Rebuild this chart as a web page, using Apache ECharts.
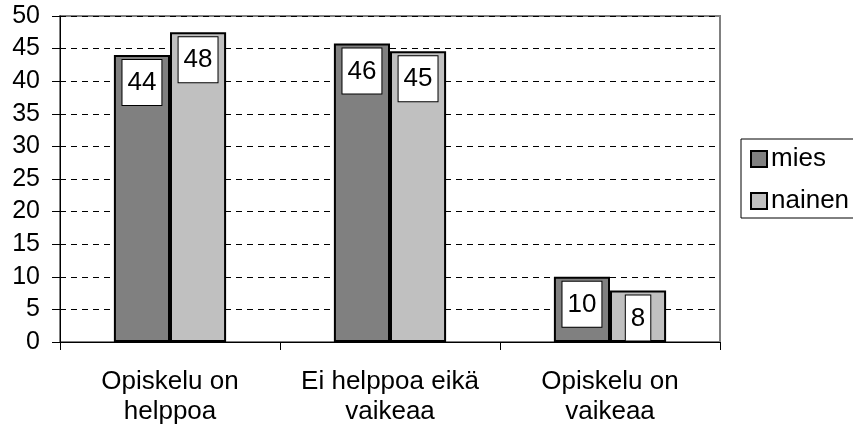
<!DOCTYPE html>
<html>
<head>
<meta charset="utf-8">
<script src="https://cdn.jsdelivr.net/npm/echarts@6/dist/echarts.min.js"></script>
<style>
  html, body { margin: 0; padding: 0; background: #fff; }
  #chart { width: 853px; height: 430px; }
</style>
</head>
<body>
<div id="chart"></div>
<script>
var categories = ['Opiskelu on\nhelppoa', 'Ei helppoa eikä\nvaikeaa', 'Opiskelu on\nvaikeaa'];
var seriesNames = ['mies', 'nainen'];
var miesValues = [44.0, 45.8, 10.0];
var nainenValues = [47.5, 44.6, 7.9];
var barColors = ['#808080', '#c0c0c0'];

var chart = echarts.init(document.getElementById('chart'), null, { renderer: 'canvas' });

var labelStyle = {
  show: true,
  position: 'insideTop',
  distance: 5,
  color: '#000',
  fontSize: 26,
  lineHeight: 26,
  backgroundColor: '#fff',
  borderColor: '#000',
  borderWidth: 1,
  padding: [10, 5, 9, 5],
  formatter: function (p) {
    return Math.round(p.value);
  }
};

function makeSeries(name, values, color) {
  return {
    name: name,
    type: 'bar',
    data: values,
    barGap: '0%',
    barCategoryGap: '49%',
    itemStyle: { color: color, borderColor: '#000', borderWidth: 2 },
    label: labelStyle,
    emphasis: { disabled: true }
  };
}

var option = {
  animation: false,
  textStyle: { fontFamily: 'Liberation Sans, Arial, sans-serif' },
  grid: {
    left: 60,
    right: 133,
    top: 16,
    bottom: 88,
    show: true,
    borderColor: '#808080',
    borderWidth: 2
  },
  legend: {
    orient: 'vertical',
    left: 741,
    top: 139,
    padding: [7, 16, 4, 9],
    itemGap: 16,
    itemWidth: 16,
    itemHeight: 16,
    borderColor: '#000',
    borderWidth: 1,
    icon: 'rect',
    textStyle: { fontSize: 26, lineHeight: 26, color: '#000', padding: [0, 0, 0, -1] },
    data: [
      { name: 'mies', itemStyle: { color: barColors[0], borderColor: '#000', borderWidth: 2 } },
      { name: 'nainen', itemStyle: { color: barColors[1], borderColor: '#000', borderWidth: 2 } }
    ]
  },
  xAxis: {
    type: 'category',
    data: categories,
    axisLine: { lineStyle: { color: '#000', width: 1 } },
    axisTick: { show: true, length: 8, lineStyle: { color: '#000' } },
    axisLabel: {
      color: '#000',
      fontSize: 26,
      lineHeight: 30,
      margin: 25,
      interval: 0
    },
    splitLine: { show: false }
  },
  yAxis: {
    type: 'value',
    min: 0,
    max: 50,
    interval: 5,
    axisLine: { show: true, lineStyle: { color: '#000', width: 1 } },
    axisTick: { show: true, length: 8, lineStyle: { color: '#000' } },
    axisLabel: { color: '#000', fontSize: 25, margin: 20 },
    splitLine: { show: true, lineStyle: { color: '#000', type: [6, 5], width: 1 } }
  },
  series: [
    makeSeries(seriesNames[0], miesValues, barColors[0]),
    makeSeries(seriesNames[1], nainenValues, barColors[1])
  ]
};

chart.setOption(option);
window.addEventListener('resize', chart.resize);
</script>
</body>
</html>
